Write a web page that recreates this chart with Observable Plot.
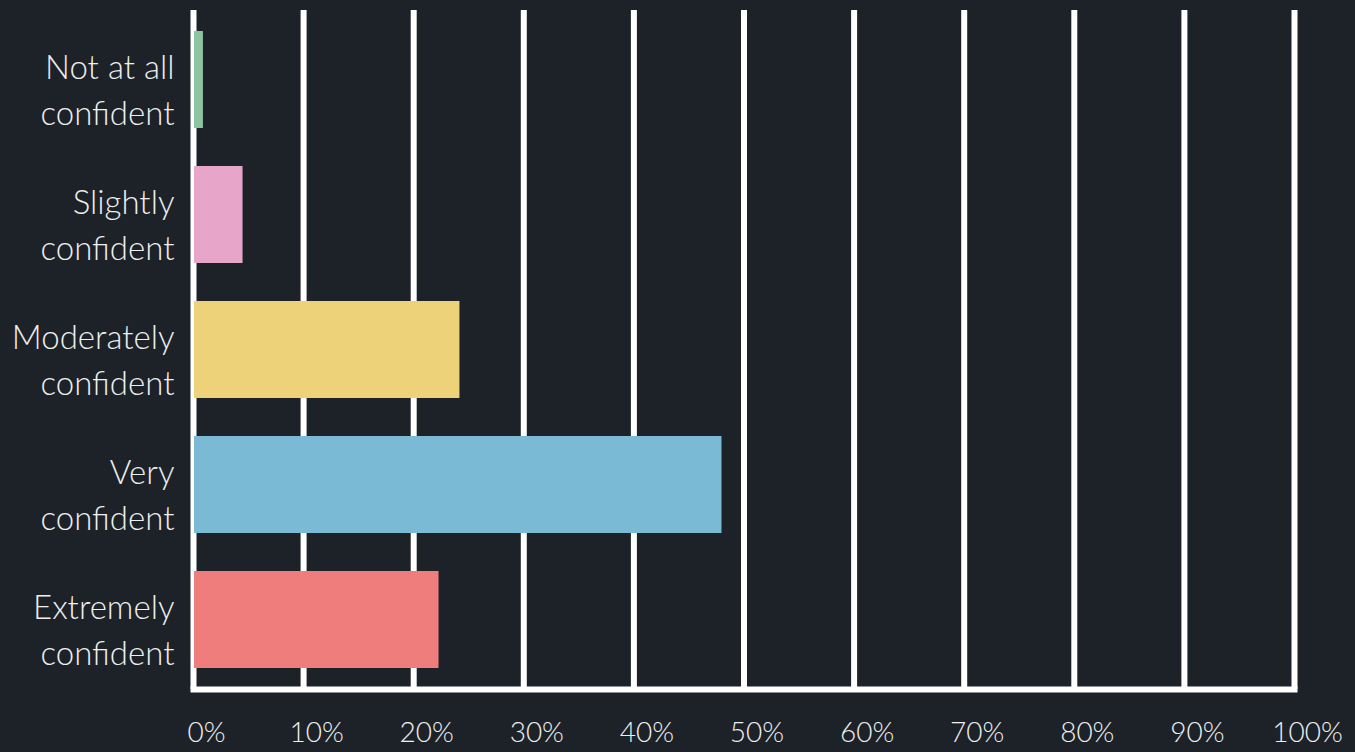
<!DOCTYPE html>
<html>
<head>
<meta charset="utf-8">
<script src="https://cdn.jsdelivr.net/npm/d3@7"></script>
<script src="https://cdn.jsdelivr.net/npm/@observablehq/plot@0.6"></script>
<style>
  html, body { margin: 0; padding: 0; background: #1c2228; }
  #chart svg { display: block; }
</style>
</head>
<body>
<div id="chart"></div>
<script>
const categories = ["Not at all confident", "Slightly confident", "Moderately confident", "Very confident", "Extremely confident"];
const labelLines = ["Not at all\nconfident", "Slightly\nconfident", "Moderately\nconfident", "Very\nconfident", "Extremely\nconfident"];
const percents = [0.9, 4.5, 24.2, 48.0, 22.3];
const barColors = ["#8fc4a2", "#e6a5c9", "#edd27a", "#7abad5", "#ee7d7c"];
const xTicks = [0, 10, 20, 30, 40, 50, 60, 70, 80, 90, 100];

const data = categories.map((c, i) => ({category: c, label: labelLines[i], value: percents[i], color: barColors[i]}));

const FONT = "Lato, 'Open Sans', sans-serif";
const TEXT = "#eeefee";

const chart = Plot.plot({
  width: 1355,
  height: 752,
  marginLeft: 193,
  marginRight: 61,
  marginTop: 10,
  marginBottom: 63,
  style: {background: "#1c2228", fontFamily: FONT, color: TEXT},
  x: {domain: [0, 100], ticks: xTicks, tickFormat: d => d + "%", label: null},
  y: {domain: categories, paddingInner: 0.284, paddingOuter: 0.155, axis: null, label: null},
  marks: [
    Plot.ruleX(xTicks, {stroke: "white", strokeWidth: 6, strokeOpacity: 1}),
    Plot.barX(data, {x: "value", y: "category", fill: "color", insetLeft: 1}),
    Plot.frame({anchor: "bottom", stroke: "white", strokeWidth: 6, strokeLinecap: "square"}),
    Plot.text(data, {
      x: 0, y: "category", text: "label", textAnchor: "end", dx: -19, dy: 7,
      fontSize: 33, fontWeight: 300, lineHeight: 1.39, fill: TEXT
    }),
    Plot.axisX({
      ticks: xTicks, tickSize: 0, tickPadding: 33, dx: 13, label: null,
      fontSize: 28, fontWeight: 300, fill: TEXT, tickFormat: d => d + "%"
    })
  ]
});
document.getElementById("chart").appendChild(chart);
</script>
</body>
</html>
